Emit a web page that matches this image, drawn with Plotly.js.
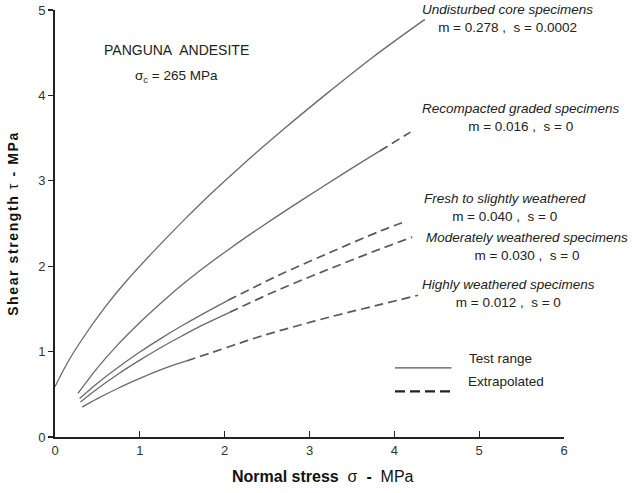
<!DOCTYPE html>
<html>
<head>
<meta charset="utf-8">
<script src="https://cdn.plot.ly/plotly-3.0.1.min.js"></script>
<style>
  html, body { margin: 0; padding: 0; background: #fff; }
  #chart { width: 633px; height: 493px; }
  .ytitle { letter-spacing: 1.6px; }
</style>
</head>
<body>
<div id="chart"></div>
<script>
// Shear strength envelopes for Panguna andesite (normal stress in MPa vs shear strength in MPa)

// Undisturbed core specimens (test range only)
const undisturbedX = [0.0, 0.15, 0.31, 0.59, 0.85, 1.14, 1.49, 1.85, 2.18, 2.69, 3.24, 3.75, 4.36];
const undisturbedY = [0.59, 0.875, 1.13, 1.52, 1.835, 2.15, 2.51, 2.86, 3.16, 3.60, 4.05, 4.45, 4.89];

// Recompacted graded specimens
const recompactedTestX = [0.27, 0.50, 0.73, 1.00, 1.24, 1.47, 1.71, 2.08, 2.46, 2.95, 3.44, 3.83];
const recompactedTestY = [0.51, 0.81, 1.07, 1.34, 1.56, 1.76, 1.95, 2.22, 2.48, 2.80, 3.11, 3.35];
const recompactedExtX = [3.83, 4.19];
const recompactedExtY = [3.35, 3.57];

// Fresh to slightly weathered
const freshTestX = [0.29, 0.50, 0.75, 1.00, 1.25, 1.50, 1.75, 2.04];
const freshTestY = [0.45, 0.63, 0.82, 0.995, 1.155, 1.305, 1.445, 1.60];
const freshExtX = [2.04, 2.36, 2.65, 3.24, 3.83, 4.15];
const freshExtY = [1.60, 1.76, 1.90, 2.16, 2.41, 2.53];

// Moderately weathered specimens
const moderateTestX = [0.30, 0.50, 0.75, 1.00, 1.25, 1.50, 1.75, 2.06];
const moderateTestY = [0.41, 0.566, 0.741, 0.90, 1.048, 1.185, 1.315, 1.46];
const moderateExtX = [2.06, 2.36, 2.65, 3.24, 3.83, 4.21];
const moderateExtY = [1.46, 1.60, 1.73, 1.97, 2.20, 2.34];

// Highly weathered specimens
const highlyTestX = [0.32, 0.50, 0.75, 1.00, 1.25, 1.55];
const highlyTestY = [0.35, 0.449, 0.574, 0.686, 0.789, 0.89];
const highlyExtX = [1.55, 2.06, 2.36, 2.65, 3.24, 3.83, 4.28];
const highlyExtY = [0.89, 1.06, 1.16, 1.245, 1.405, 1.55, 1.66];

const xTicks = [0, 1, 2, 3, 4, 5, 6];
const yTicks = [0, 1, 2, 3, 4, 5];

// Envelope labels: name, Hoek-Brown constants, label anchor (x, y)
const labelNames = ['Undisturbed core specimens', 'Recompacted graded specimens',
  'Fresh to slightly weathered', 'Moderately weathered specimens', 'Highly weathered specimens'];
const labelM = ['0.278', '0.016', '0.040', '0.030', '0.012'];
const labelS = ['0.0002', '0', '0', '0', '0'];
const labelX = [5.33, 5.49, 5.30, 5.56, 5.34];
const labelY = [4.90, 3.74, 2.69, 2.23, 1.68];

const solidStyle = { color: '#6a6a6a', width: 1.3, shape: 'spline', smoothing: 1 };
const dashStyle = { color: '#5a5a5a', width: 1.7, dash: '9px,5px', shape: 'spline', smoothing: 1 };

function tr(x, y, line) {
  return { x: x, y: y, type: 'scatter', mode: 'lines', line: line, hoverinfo: 'skip', showlegend: false };
}

const data = [
  tr(undisturbedX, undisturbedY, solidStyle),
  tr(recompactedTestX, recompactedTestY, solidStyle),
  tr(recompactedExtX, recompactedExtY, dashStyle),
  tr(freshTestX, freshTestY, solidStyle),
  tr(freshExtX, freshExtY, dashStyle),
  tr(moderateTestX, moderateTestY, solidStyle),
  tr(moderateExtX, moderateExtY, dashStyle),
  tr(highlyTestX, highlyTestY, solidStyle),
  tr(highlyExtX, highlyExtY, dashStyle)
];

const NB = '\u00a0';
const textFont = { family: 'Liberation Sans, Arial, sans-serif', size: 13.5, color: '#222' };

const annotations = labelNames.map((n, i) => ({
  x: labelX[i], y: labelY[i], xref: 'x', yref: 'y',
  text: '<i>' + n + '</i><br>m = ' + labelM[i] + ' ,' + NB + NB + 's = ' + labelS[i],
  showarrow: false, xanchor: 'center', yanchor: 'middle', align: 'center',
  font: textFont
}));

annotations.push(
  { x: 1.43, y: 4.53, xref: 'x', yref: 'y', text: 'PANGUNA' + NB + ' ANDESITE',
    showarrow: false, font: { family: textFont.family, size: 14, color: '#222' } },
  { x: 1.43, y: 4.22, xref: 'x', yref: 'y', text: '\u03c3<sub>c</sub> = 265 MPa',
    showarrow: false, font: textFont },
  { x: 0.81, y: 0.162, xref: 'paper', yref: 'paper', text: 'Test range',
    showarrow: false, xanchor: 'left', font: textFont },
  { x: 0.807, y: 0.107, xref: 'paper', yref: 'paper', text: 'Extrapolated',
    showarrow: false, xanchor: 'left', font: textFont },
  // horizontal axis title, set slightly right of the plot centre
  { x: 0.527, y: -0.093, xref: 'paper', yref: 'paper', yanchor: 'middle', showarrow: false,
    text: '<b>Normal stress</b>' + NB + NB + '\u03c3' + NB + NB + '<b>-</b>' + NB + NB + 'MPa',
    font: { family: textFont.family, size: 16, color: '#111' } }
);

const layout = {
  width: 633, height: 493,
  margin: { l: 55, r: 69, t: 10, b: 56 },
  paper_bgcolor: '#fff', plot_bgcolor: '#fff',
  showlegend: false,
  font: { family: 'Liberation Sans, Arial, sans-serif', color: '#333' },
  xaxis: {
    range: [0, 6], tickvals: xTicks, ticktext: xTicks.map(String),
    showgrid: false, zeroline: false,
    showline: true, linecolor: '#222', linewidth: 2,
    ticks: 'inside', ticklen: 6, tickwidth: 1.2, tickcolor: '#222',
    tickfont: { size: 13, color: '#333' }
  },
  yaxis: {
    range: [0, 5], tickvals: yTicks, ticktext: yTicks.map(String),
    showgrid: false, zeroline: false,
    showline: true, linecolor: '#222', linewidth: 2,
    ticks: 'outside', ticklen: 5, tickwidth: 1.2, tickcolor: '#222',
    tickfont: { size: 13, color: '#333' },
    title: { text: '<b>Shear strength</b> \u03c4 <b>- MPa</b>',
      font: { size: 14, color: '#111' }, standoff: 16 }
  },
  shapes: [
    { type: 'line', xref: 'paper', yref: 'paper', x0: 0.668, x1: 0.779, y0: 0.162, y1: 0.162,
      line: { color: '#555', width: 1.2 } },
    { type: 'line', xref: 'paper', yref: 'paper', x0: 0.668, x1: 0.779, y0: 0.107, y1: 0.107,
      line: { color: '#222', width: 2.2, dash: '10px,5px' } }
  ],
  annotations: annotations
};

Plotly.newPlot('chart', data, layout, { staticPlot: true, displayModeBar: false });
</script>
</body>
</html>
